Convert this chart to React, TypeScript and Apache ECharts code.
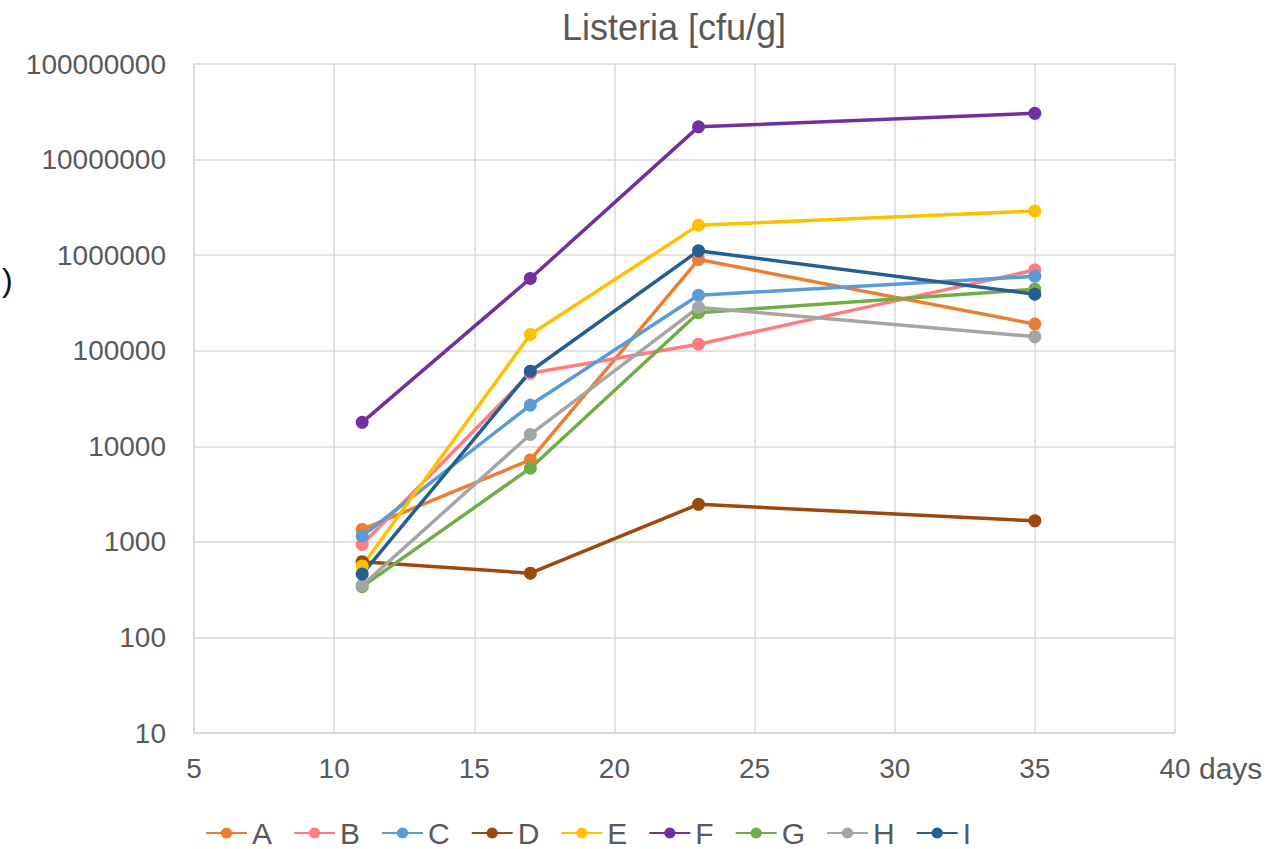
import React, { useEffect, useRef } from "react";
import * as echarts from "echarts";

const days = [11, 17, 23, 35];
const seriesNames = ["A", "B", "C", "D", "E", "F", "G", "H", "I"];
const seriesColors = ["#ED7D31", "#FF7C80", "#5B9BD5", "#9E480E", "#FFC000", "#7030A0", "#70AD47", "#A5A5A5", "#255E91"];
const valuesA = [1350, 7200, 900000, 190000];
const valuesB = [940, 58000, 117000, 700000];
const valuesC = [1150, 27000, 380000, 600000];
const valuesD = [620, 470, 2470, 1660];
const valuesE = [560, 148000, 2060000, 2900000];
const valuesF = [17800, 570000, 22000000, 30500000];
const valuesG = [340, 5900, 250000, 440000];
const valuesH = [350, 13300, 284000, 140000];
const valuesI = [460, 61000, 1110000, 390000];
const allValues = [valuesA, valuesB, valuesC, valuesD, valuesE, valuesF, valuesG, valuesH, valuesI];

const FONT = "'Liberation Sans', Arial, sans-serif";
const TEXT = "#595959";
const GRID = "#d9d9d9";

export default function App() {
  const ref = useRef<HTMLDivElement>(null);
  useEffect(() => {
    if (!ref.current) return;
    const chart = echarts.init(ref.current, undefined, { renderer: "svg" });
    chart.setOption({
      animation: false,
      backgroundColor: "#ffffff",
      textStyle: { fontFamily: FONT },
      title: {
        text: "Listeria [cfu/g]",
        left: 562,
        top: 9,
        padding: 0,
        textStyle: { fontFamily: FONT, fontSize: 36, fontWeight: "normal", color: TEXT },
      },
      legend: {
        left: 205,
        top: 818,
        padding: 0,
        itemWidth: 41,
        itemHeight: 14,
        itemGap: 21,
        data: seriesNames,
        textStyle: { fontFamily: FONT, fontSize: 30, lineHeight: 30, color: TEXT },
      },
      grid: { left: 194, right: 101, top: 64, bottom: 116, containLabel: false },
      xAxis: {
        type: "value",
        min: 5,
        max: 40,
        interval: 5,
        name: "days",
        nameLocation: "end",
        nameGap: 24,
        nameTextStyle: { fontFamily: FONT, fontSize: 30, color: TEXT, verticalAlign: "top", padding: [20, 0, 0, 0] },
        axisLine: { show: true, lineStyle: { color: GRID, width: 1.5 } },
        axisTick: { show: false },
        axisLabel: { fontFamily: FONT, fontSize: 28, color: TEXT, margin: 21 },
        splitLine: { show: true, lineStyle: { color: GRID, width: 1.5 } },
      },
      yAxis: {
        type: "log",
        logBase: 10,
        min: 10,
        max: 100000000,
        axisLine: { show: true, lineStyle: { color: GRID, width: 1.5 } },
        axisTick: { show: false },
        axisLabel: {
          fontFamily: FONT,
          fontSize: 28,
          color: TEXT,
          margin: 28,
          formatter: (v: number) => String(Math.round(v)),
        },
        splitLine: { show: true, lineStyle: { color: GRID, width: 1.5 } },
      },
      graphic: [
        {
          type: "text",
          left: 2,
          top: 264,
          style: { text: ")", font: `32px ${FONT}`, fill: "#111111" },
        },
      ],
      series: seriesNames.map((name, i) => ({
        name,
        type: "line",
        data: days.map((d, j) => [d, allValues[i][j]]),
        symbol: "circle",
        symbolSize: 13,
        lineStyle: { width: 3.5, color: seriesColors[i] },
        itemStyle: { color: seriesColors[i] },
      })),
    });
    return () => chart.dispose();
  }, []);
  return (
    <div
      ref={ref}
      style={{ position: "fixed", left: 0, top: 0, width: 1276, height: 849 }}
    />
  );
}
